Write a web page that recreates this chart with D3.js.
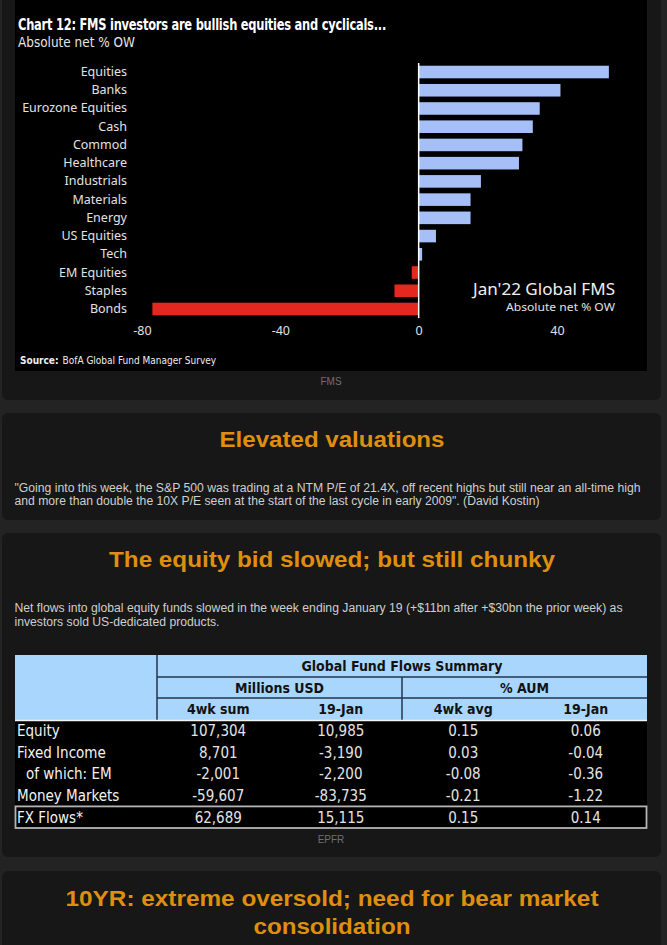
<!DOCTYPE html>
<html>
<head>
<meta charset="utf-8">
<script src="https://cdn.jsdelivr.net/npm/d3@7"></script>
<style>
  html, body { margin: 0; padding: 0; background: #232323; overflow: hidden; }
  svg { display: block; }
</style>
</head>
<body>
<script>
// FMS chart data (absolute net % OW, Jan'22)
const categories = ['Equities', 'Banks', 'Eurozone Equities', 'Cash', 'Commod', 'Healthcare',
  'Industrials', 'Materials', 'Energy', 'US Equities', 'Tech', 'EM Equities', 'Staples', 'Bonds'];
const netOW = [55, 41, 35, 33, 30, 29, 18, 15, 15, 5, 1, -2, -7, -77];
const xTicks = [-80, -40, 0, 40];

// fund flows table
const flowRows = ['Equity', 'Fixed Income', 'of which: EM', 'Money Markets', 'FX Flows*'];
const flowGroups = ['Millions USD', '% AUM'];
const flowCols = ['4wk sum', '19-Jan', '4wk avg', '19-Jan '];
const flowValues = [
  ['107,304', '10,985', '0.15', '0.06'],
  ['8,701', '-3,190', '0.03', '-0.04'],
  ['-2,001', '-2,200', '-0.08', '-0.36'],
  ['-59,607', '-83,735', '-0.21', '-1.22'],
  ['62,689', '15,115', '0.15', '0.14']
];

const W = 667, H = 945;
const orange = '#de8f0e';
const narrow = "'Liberation Sans Narrow', 'DejaVu Sans Condensed', 'Liberation Sans', sans-serif";
const arial = "'Liberation Sans', Arial, sans-serif";

const svg = d3.select('body').append('svg')
  .attr('width', W)
  .attr('height', H);

function fit(sel, w) {
  return sel.attr('textLength', w).attr('lengthAdjust', 'spacingAndGlyphs');
}

// cards
const cards = [[-20, 400], [413, 520], [533, 857], [871, 980]];
svg.selectAll('rect.card')
  .data(cards)
  .join('rect')
  .attr('class', 'card')
  .attr('x', 2).attr('width', 659)
  .attr('y', d => d[0]).attr('height', d => d[1] - d[0])
  .attr('rx', 6)
  .attr('fill', '#171717');

// ---------- Chart 12 image ----------
const chart = svg.append('g');
chart.append('rect')
  .attr('x', 15).attr('y', 0).attr('width', 632).attr('height', 371)
  .attr('fill', '#000');

fit(chart.append('text')
  .attr('x', 18).attr('y', 30)
  .attr('fill', '#fff')
  .style('font', `bold 15.5px ${narrow}`)
  .style('letter-spacing', '-0.3px')
  .text('Chart 12: FMS investors are bullish equities and cyclicals...'), 368);

fit(chart.append('text')
  .attr('x', 18).attr('y', 47)
  .attr('fill', '#e6e6e6')
  .style('font', `14px ${narrow}`)
  .text('Absolute net % OW'), 117);

const x = d3.scaleLinear().domain([-80, 40]).range([142, 557]);
const y = d3.scaleBand().domain(categories).range([63, 318]).paddingInner(0.31).paddingOuter(0.15);

chart.selectAll('rect.bar')
  .data(categories)
  .join('rect')
  .attr('class', 'bar')
  .attr('x', (d, i) => x(Math.min(0, netOW[i])))
  .attr('width', (d, i) => Math.abs(x(netOW[i]) - x(0)))
  .attr('y', d => y(d))
  .attr('height', y.bandwidth())
  .attr('fill', (d, i) => netOW[i] >= 0 ? '#a6bff7' : '#e3281f');

// category labels
const yAxis = chart.append('g')
  .attr('transform', 'translate(127,0)')
  .call(d3.axisLeft(y).tickSize(0).tickPadding(0));
yAxis.select('.domain').remove();
yAxis.selectAll('text')
  .attr('fill', '#e2e2e2')
  .style('font', "12.5px 'Noto Sans', sans-serif");

// zero line
chart.append('line')
  .attr('x1', x(0)).attr('x2', x(0))
  .attr('y1', 63).attr('y2', 318)
  .attr('stroke', '#fff').attr('stroke-width', 1.5);

// x axis labels
const xAxis = chart.append('g')
  .attr('transform', 'translate(0,323)')
  .call(d3.axisBottom(x).tickValues(xTicks).tickSize(0).tickPadding(0).tickFormat(d => String(d)));
xAxis.select('.domain').remove();
xAxis.selectAll('text')
  .attr('fill', '#e2e2e2')
  .attr('dy', '0.95em')
  .style('font', "12.5px 'Noto Sans', sans-serif");

fit(chart.append('text')
  .attr('x', 615).attr('y', 295)
  .attr('text-anchor', 'end')
  .attr('fill', '#f0f0f0')
  .style('font', "16px 'Noto Sans', sans-serif")
  .text("Jan'22 Global FMS"), 142);

fit(chart.append('text')
  .attr('x', 615).attr('y', 311)
  .attr('text-anchor', 'end')
  .attr('fill', '#e0e0e0')
  .style('font', "10px 'Noto Sans', sans-serif")
  .text('Absolute net % OW'), 109);

const src = chart.append('text')
  .attr('x', 20).attr('y', 364)
  .attr('fill', '#eee')
  .style('font', `10px ${narrow}`);
src.append('tspan').style('font-weight', 'bold').text('Source:');
src.append('tspan').attr('dx', 4).text('BofA Global Fund Manager Survey');

svg.append('text')
  .attr('x', 331).attr('y', 385)
  .attr('text-anchor', 'middle')
  .attr('fill', '#6f6f6f')
  .style('font', `10px ${arial}`)
  .text('FMS');

// ---------- text cards ----------
function heading(txt, cy, w) {
  fit(svg.append('text')
    .attr('x', 332).attr('y', cy)
    .attr('text-anchor', 'middle')
    .attr('fill', orange)
    .style('font', `bold 22px ${arial}`)
    .text(txt), w);
}
function para(txt, yy, w) {
  fit(svg.append('text')
    .attr('x', 14.5).attr('y', yy)
    .attr('fill', '#cfcfcf')
    .style('font', `12.5px ${arial}`)
    .text(txt), w);
}

heading('Elevated valuations', 447, 225);
para('"Going into this week, the S&P 500 was trading at a NTM P/E of 21.4X, off recent highs but still near an all-time high', 492, 626);
para('and more than double the 10X P/E seen at the start of the last cycle in early 2009". (David Kostin)', 505, 525);

heading('The equity bid slowed; but still chunky', 567, 446);
para('Net flows into global equity funds slowed in the week ending January 19 (+$11bn after +$30bn the prior week) as', 612, 608);
para('investors sold US-dedicated products.', 626, 205);

heading('10YR: extreme oversold; need for bear market', 906, 533);
heading('consolidation', 934, 157);

// ---------- fund flows table ----------
const tbl = svg.append('g');
const colX = d3.scaleBand().domain(flowCols).range([157, 647]);
const rowY = d3.scaleBand().domain(flowRows).range([720, 828]);
const groupX = d3.scaleBand().domain(flowGroups).range([157, 647]);

tbl.append('rect')
  .attr('x', 15).attr('y', 655).attr('width', 632).attr('height', 65)
  .attr('fill', '#a8d6fd');
tbl.append('rect')
  .attr('x', 15).attr('y', 720).attr('width', 632).attr('height', 108)
  .attr('fill', '#000');

const hdrLine = '#21364d';
[677, 698].forEach(yy => tbl.append('line')
  .attr('x1', 157).attr('x2', 647).attr('y1', yy).attr('y2', yy)
  .attr('stroke', hdrLine).attr('stroke-width', 1.5));
tbl.append('line')
  .attr('x1', 157).attr('x2', 157).attr('y1', 655).attr('y2', 720)
  .attr('stroke', hdrLine).attr('stroke-width', 1.5);
tbl.append('line')
  .attr('x1', groupX('% AUM')).attr('x2', groupX('% AUM')).attr('y1', 677).attr('y2', 720)
  .attr('stroke', hdrLine).attr('stroke-width', 1.5);
tbl.append('line')
  .attr('x1', 15).attr('x2', 647).attr('y1', 720.5).attr('y2', 720.5)
  .attr('stroke', '#f4f4f4').attr('stroke-width', 1.5);

const hdrFont = `bold 14px ${narrow}`;
tbl.append('text')
  .attr('x', 402).attr('y', 671)
  .attr('text-anchor', 'middle').attr('fill', '#121212')
  .style('font', hdrFont)
  .text('Global Fund Flows Summary');
tbl.selectAll('text.grp')
  .data(flowGroups)
  .join('text')
  .attr('class', 'grp')
  .attr('x', d => groupX(d) + groupX.bandwidth() / 2).attr('y', 693)
  .attr('text-anchor', 'middle').attr('fill', '#121212')
  .style('font', hdrFont)
  .text(d => d);
tbl.selectAll('text.col')
  .data(flowCols)
  .join('text')
  .attr('class', 'col')
  .attr('x', d => colX(d) + colX.bandwidth() / 2).attr('y', 714)
  .attr('text-anchor', 'middle').attr('fill', '#121212')
  .style('font', hdrFont)
  .text(d => d.trim());

const rowFont = `15px ${narrow}`;
tbl.selectAll('text.rlab')
  .data(flowRows)
  .join('text')
  .attr('class', 'rlab')
  .attr('x', (d, i) => i === 2 ? 26 : 17)
  .attr('y', d => rowY(d) + rowY.bandwidth() / 2)
  .attr('dy', '0.36em')
  .attr('fill', '#f2f2f2')
  .style('font', rowFont)
  .text(d => d);

flowRows.forEach((r, i) => {
  tbl.selectAll(null)
    .data(flowValues[i])
    .join('text')
    .attr('x', (d, j) => colX(flowCols[j]) + colX.bandwidth() / 2)
    .attr('y', rowY(r) + rowY.bandwidth() / 2)
    .attr('dy', '0.36em')
    .attr('text-anchor', 'middle')
    .attr('fill', '#e4e4e4')
    .style('font', rowFont)
    .text(d => d);
});

// FX row frame
const fxTop = rowY('FX Flows*'), fxBot = fxTop + rowY.bandwidth();
tbl.append('rect')
  .attr('x', 15.5).attr('y', fxTop).attr('width', 631).attr('height', fxBot - fxTop)
  .attr('fill', 'none').attr('stroke', '#b4b4b4').attr('stroke-width', 1.8);

svg.append('text')
  .attr('x', 331).attr('y', 843)
  .attr('text-anchor', 'middle')
  .attr('fill', '#6f6f6f')
  .style('font', `10px ${arial}`)
  .text('EPFR');
</script>
</body>
</html>
